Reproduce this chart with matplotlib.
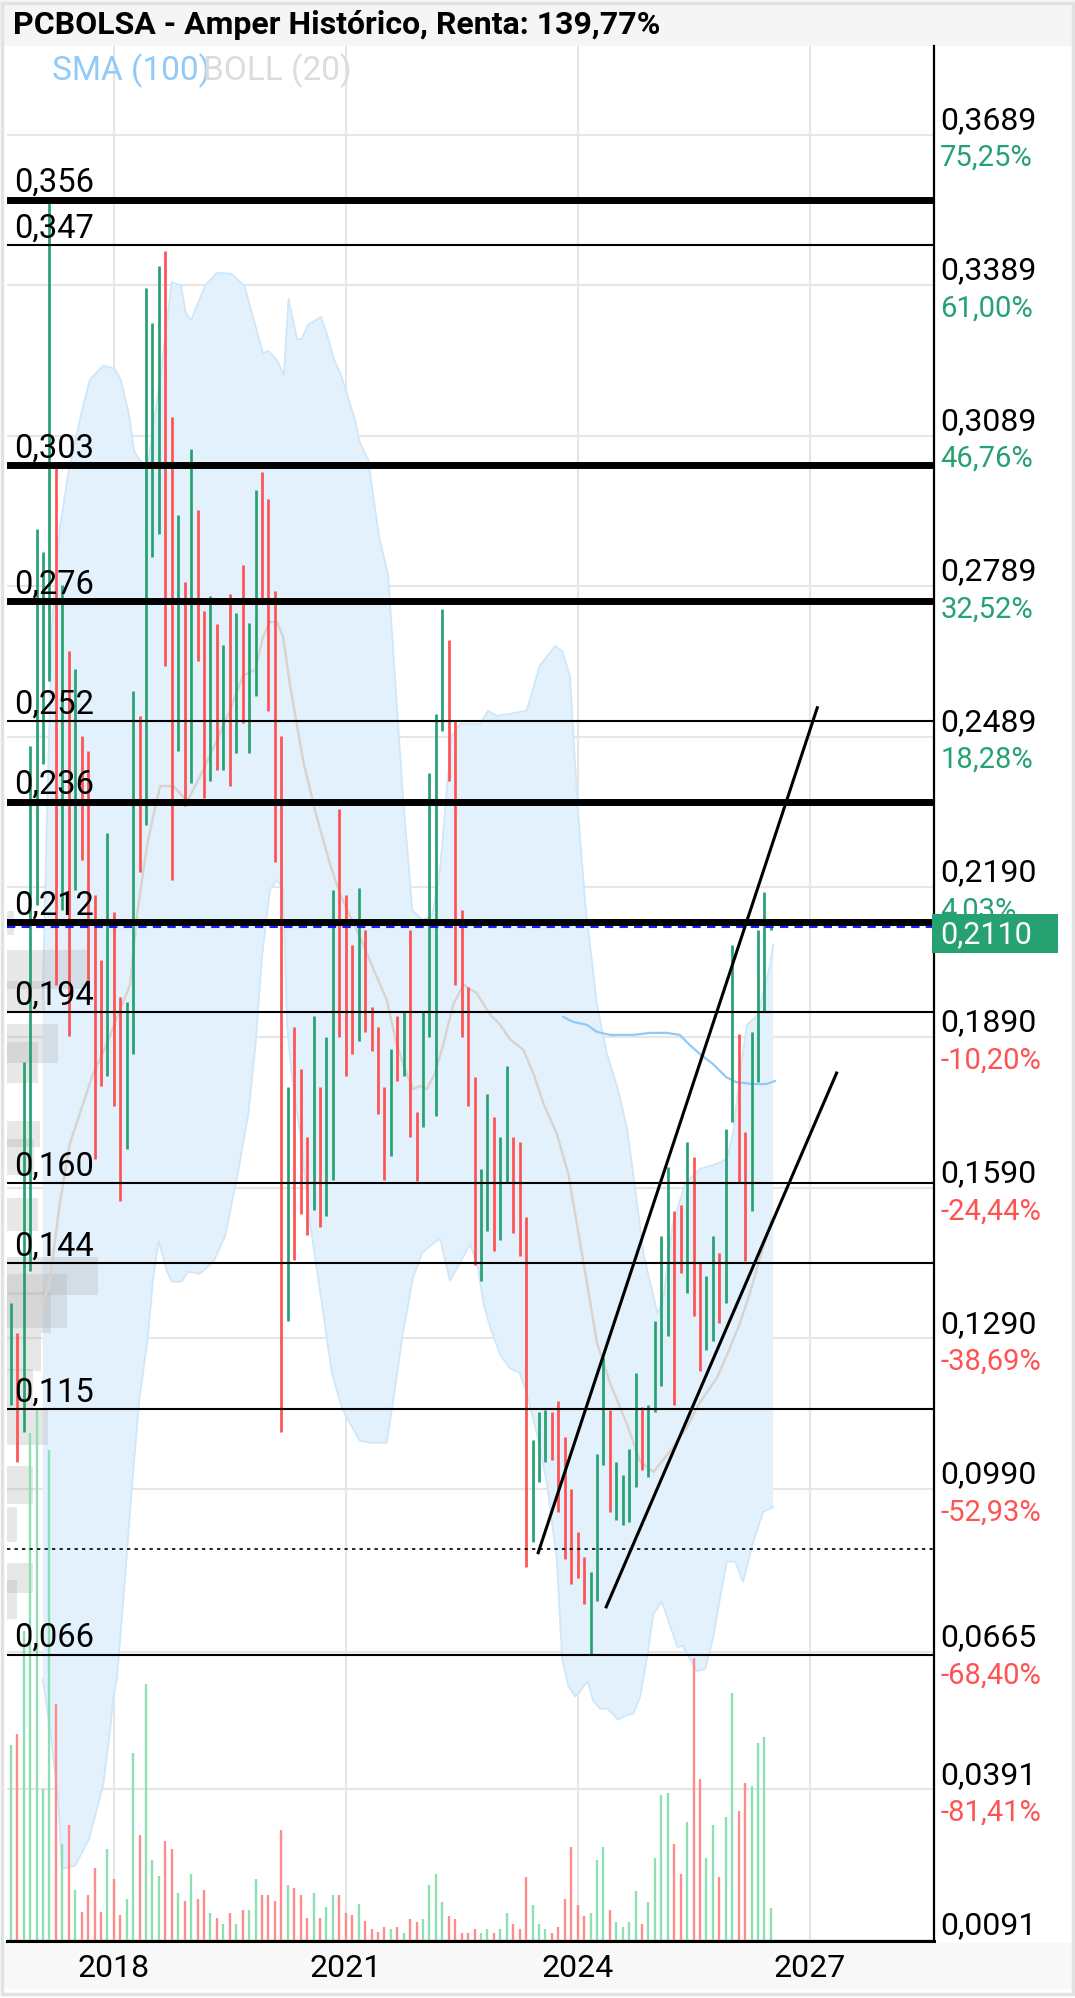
import numpy as np
import matplotlib
matplotlib.use('Agg')
import matplotlib.pyplot as plt
from matplotlib.patches import Rectangle

plt.rcParams['font.family'] = ['Roboto', 'DejaVu Sans']

# monthly bars, first bar = Sep 2016
first_month = 2016 + 8 / 12
highs = [0.1361, 0.1301, 0.1841, 0.2471, 0.2903, 0.2858, 0.3553, 0.3036, 0.2792, 0.2660,
         0.2624, 0.2491, 0.2461, 0.2174, 0.2045, 0.2297, 0.2140, 0.1970, 0.1960, 0.2580,
         0.2531, 0.3383, 0.3314, 0.3427, 0.3457, 0.3126, 0.2931, 0.2798, 0.3062, 0.2941,
         0.2739, 0.2769, 0.2713, 0.2673, 0.2773, 0.2735, 0.2832, 0.2715, 0.2981, 0.3016,
         0.2963, 0.2779, 0.2491, 0.1791, 0.1910, 0.1827, 0.1692, 0.1932, 0.1791, 0.1890,
         0.2184, 0.2346, 0.2174, 0.2075, 0.2188, 0.2104, 0.1950, 0.1910, 0.1791, 0.1866,
         0.1932, 0.1942, 0.2104, 0.1741, 0.1942, 0.2416, 0.2535, 0.2743, 0.2683, 0.2521,
         0.2144, 0.1991, 0.1811, 0.1628, 0.1777, 0.1732, 0.1692, 0.1833, 0.1692, 0.1682,
         0.1533, 0.1087, 0.1143, 0.1147, 0.1143, 0.1166, 0.1093, 0.0990, 0.0905, 0.0855,
         0.0825, 0.1059, 0.1252, 0.1147, 0.1043, 0.1018, 0.1069, 0.1222, 0.1153, 0.1158,
         0.1325, 0.1494, 0.1632, 0.1543, 0.1555, 0.1682, 0.1652, 0.1440, 0.1414, 0.1494,
         0.1460, 0.1708, 0.2075, 0.1896, 0.1702, 0.1900, 0.2104, 0.2180, 0.2115]
lows = [0.1158, 0.1043, 0.1103, 0.1424, 0.2154, 0.2435, 0.2600, 0.1995, 0.2144, 0.1892,
        0.2184, 0.2243, 0.1975, 0.1648, 0.1793, 0.1813, 0.1753, 0.1563, 0.1668, 0.1856,
        0.2219, 0.2313, 0.2848, 0.2894, 0.2630, 0.2203, 0.2461, 0.2352, 0.2398, 0.2640,
        0.2368, 0.2402, 0.2422, 0.2422, 0.2392, 0.2457, 0.2517, 0.2457, 0.2570, 0.2759,
        0.2541, 0.2239, 0.1103, 0.1325, 0.1446, 0.1539, 0.1496, 0.1545, 0.1513, 0.1535,
        0.1605, 0.1890, 0.1813, 0.1856, 0.1882, 0.1900, 0.1862, 0.1737, 0.1605, 0.1654,
        0.1803, 0.1813, 0.1692, 0.1603, 0.1712, 0.1890, 0.1733, 0.2501, 0.2402, 0.1995,
        0.1890, 0.1753, 0.1436, 0.1404, 0.1505, 0.1464, 0.1486, 0.1599, 0.1500, 0.1454,
        0.0835, 0.0885, 0.1004, 0.1043, 0.1047, 0.0944, 0.0851, 0.0800, 0.0812, 0.0760,
        0.0661, 0.0766, 0.1037, 0.0944, 0.0928, 0.0918, 0.0924, 0.0994, 0.1028, 0.1014,
        0.1143, 0.1196, 0.1295, 0.1158, 0.1420, 0.1381, 0.1335, 0.1226, 0.1267, 0.1285,
        0.1321, 0.1361, 0.1722, 0.1599, 0.1444, 0.1543, 0.1801, 0.1940, 0.2105]
up = [1, 0, 1, 1, 1, 1, 1, 0, 1, 0, 1, 0, 0, 0, 0, 1, 0, 0, 1, 1,
      0, 1, 1, 1, 0, 0, 1, 0, 1, 0, 0, 1, 0, 1, 0, 1, 0, 1, 1, 0,
      0, 0, 0, 1, 0, 0, 0, 1, 0, 1, 1, 0, 0, 0, 1, 0, 0, 0, 0, 1,
      0, 1, 0, 0, 1, 1, 1, 1, 0, 0, 0, 0, 0, 1, 1, 0, 1, 1, 0, 0,
      0, 1, 1, 1, 0, 0, 0, 0, 0, 0, 1, 1, 1, 0, 1, 1, 1, 1, 0, 1,
      1, 1, 1, 0, 0, 1, 0, 0, 1, 1, 0, 1, 1, 0, 0, 1, 1, 1, 1]
vols = [589, 622, 931, 1525, 1600, 457, 1474, 712, 292, 349,
        152, 87, 137, 219, 87, 277, 185, 79, 127, 565,
        317, 771, 244, 194, 301, 277, 144, 119, 202, 127,
        152, 85, 69, 52, 85, 52, 94, 94, 185, 137,
        137, 119, 334, 169, 160, 137, 69, 144, 69, 102,
        137, 137, 85, 77, 110, 60, 35, 26, 43, 35,
        42, 25, 67, 58, 67, 167, 200, 117, 75, 67,
        25, 25, 35, 25, 35, 25, 35, 83, 50, 35,
        192, 108, 50, 35, 25, 42, 125, 282, 108, 75,
        83, 242, 282, 92, 58, 42, 58, 150, 50, 117,
        248, 438, 445, 290, 200, 357, 850, 487, 248, 347,
        192, 373, 743, 390, 473, 465, 595, 612, 100]
vol_full = 5685   # volume that would fill the whole panel height

# BOLL (20) bands and SMA (100)
boll_up_x = [2017.08, 2017.14, 2017.20, 2017.30, 2017.42, 2017.60, 2017.69, 2017.86, 2018.01, 2018.09,
             2018.20, 2018.26, 2018.35, 2018.44, 2018.60, 2018.75, 2018.87, 2018.93, 2019.00, 2019.18,
             2019.33, 2019.52, 2019.69, 2019.85, 2019.93, 2020.00, 2020.11, 2020.20, 2020.26, 2020.37,
             2020.43, 2020.51, 2020.68, 2020.76, 2020.85, 2020.94, 2021.12, 2021.18, 2021.29, 2021.43,
             2021.55, 2021.64, 2021.74, 2021.86, 2021.99, 2022.12, 2022.22, 2022.31, 2022.37, 2022.48,
             2022.74, 2022.84, 2022.96, 2023.12, 2023.34, 2023.51, 2023.71, 2023.80, 2023.90, 2024.00,
             2024.10, 2024.25, 2024.38, 2024.52, 2024.64, 2024.77, 2024.85, 2025.03, 2025.10, 2025.23,
             2025.39, 2025.58, 2025.80, 2025.93, 2026.01, 2026.10, 2026.19, 2026.33, 2026.49, 2026.53]
boll_up = [0.1967, 0.2365, 0.2712, 0.2904, 0.3023, 0.3147, 0.3201, 0.3229, 0.3223, 0.3201,
           0.3129, 0.3059, 0.3037, 0.3031, 0.3203, 0.3396, 0.3388, 0.3334, 0.3320, 0.3388,
           0.3414, 0.3412, 0.3388, 0.3298, 0.3254, 0.3258, 0.3240, 0.3210, 0.3362, 0.3282,
           0.3282, 0.3310, 0.3326, 0.3290, 0.3240, 0.3210, 0.3121, 0.3077, 0.3041, 0.2890,
           0.2810, 0.2601, 0.2371, 0.2144, 0.2124, 0.2134, 0.2224, 0.2391, 0.2491, 0.2515,
           0.2515, 0.2541, 0.2531, 0.2535, 0.2541, 0.2631, 0.2670, 0.2660, 0.2611, 0.2351,
           0.2154, 0.1955, 0.1857, 0.1787, 0.1708, 0.1558, 0.1460, 0.1341, 0.1361, 0.1518,
           0.1598, 0.1628, 0.1638, 0.1648, 0.1698, 0.1817, 0.1915, 0.1935, 0.2035, 0.2074]
boll_lo_x = [2017.08, 2017.19, 2017.28, 2017.33, 2017.50, 2017.68, 2017.86, 2017.95, 2017.99, 2018.04,
             2018.13, 2018.24, 2018.33, 2018.44, 2018.51, 2018.58, 2018.69, 2018.75, 2018.88, 2018.96,
             2019.11, 2019.29, 2019.44, 2019.60, 2019.74, 2019.83, 2019.92, 2019.98, 2020.02, 2020.11,
             2020.19, 2020.24, 2020.30, 2020.41, 2020.54, 2020.69, 2020.82, 2020.95, 2021.05, 2021.18,
             2021.31, 2021.53, 2021.61, 2021.74, 2021.87, 2021.99, 2022.15, 2022.22, 2022.35, 2022.48,
             2022.61, 2022.71, 2022.78, 2022.87, 2023.00, 2023.12, 2023.25, 2023.34, 2023.47, 2023.60,
             2023.73, 2023.80, 2023.88, 2023.97, 2024.03, 2024.13, 2024.20, 2024.29, 2024.39, 2024.52,
             2024.65, 2024.72, 2024.81, 2024.90, 2024.98, 2025.09, 2025.29, 2025.36, 2025.54, 2025.65,
             2025.75, 2025.84, 2025.93, 2026.04, 2026.14, 2026.27, 2026.40, 2026.53]
boll_lo = [0.0611, 0.0492, 0.0372, 0.0233, 0.0239, 0.0293, 0.0398, 0.0506, 0.0572, 0.0611,
           0.0783, 0.1006, 0.1170, 0.1291, 0.1413, 0.1484, 0.1423, 0.1403, 0.1403, 0.1423,
           0.1419, 0.1443, 0.1494, 0.1616, 0.1738, 0.1871, 0.2055, 0.2134, 0.2184, 0.2204,
           0.2184, 0.1915, 0.1817, 0.1698, 0.1518, 0.1361, 0.1221, 0.1152, 0.1122, 0.1086,
           0.1082, 0.1082, 0.1162, 0.1301, 0.1411, 0.1461, 0.1482, 0.1488, 0.1405, 0.1441,
           0.1478, 0.1431, 0.1361, 0.1311, 0.1257, 0.1231, 0.1221, 0.1181, 0.1102, 0.1004,
           0.0851, 0.0651, 0.0597, 0.0576, 0.0586, 0.0607, 0.0568, 0.0552, 0.0552, 0.0530,
           0.0540, 0.0542, 0.0576, 0.0657, 0.0741, 0.0765, 0.0675, 0.0677, 0.0627, 0.0631,
           0.0691, 0.0771, 0.0845, 0.0845, 0.0805, 0.0884, 0.0944, 0.0954]
boll_mid_x = [2017.08, 2017.17, 2017.30, 2017.43, 2017.60, 2017.73, 2017.91, 2018.08, 2018.21, 2018.30,
              2018.43, 2018.51, 2018.60, 2018.70, 2018.77, 2018.95, 2019.05, 2019.15, 2019.33, 2019.50,
              2019.67, 2019.83, 2019.93, 2020.02, 2020.11, 2020.19, 2020.28, 2020.45, 2020.62, 2020.80,
              2020.93, 2021.05, 2021.23, 2021.36, 2021.53, 2021.66, 2021.79, 2021.87, 2021.96, 2022.05,
              2022.15, 2022.26, 2022.39, 2022.52, 2022.69, 2022.87, 2023.00, 2023.12, 2023.30, 2023.43,
              2023.56, 2023.73, 2023.88, 2023.99, 2024.12, 2024.25, 2024.42, 2024.63, 2024.81, 2024.98,
              2025.19, 2025.41, 2025.58, 2025.80, 2025.97, 2026.10, 2026.23, 2026.34, 2026.42, 2026.51]
boll_mid = [0.1361, 0.1401, 0.1558, 0.1678, 0.1757, 0.1817, 0.1877, 0.1945, 0.1995, 0.2134,
            0.2272, 0.2332, 0.2391, 0.2391, 0.2391, 0.2361, 0.2391, 0.2421, 0.2481, 0.2541,
            0.2611, 0.2623, 0.2688, 0.2718, 0.2718, 0.2688, 0.2591, 0.2441, 0.2332, 0.2234,
            0.2174, 0.2134, 0.2074, 0.2025, 0.1965, 0.1875, 0.1817, 0.1787, 0.1793, 0.1787,
            0.1817, 0.1875, 0.1955, 0.1995, 0.1979, 0.1935, 0.1915, 0.1887, 0.1865, 0.1817,
            0.1757, 0.1698, 0.1618, 0.1518, 0.1401, 0.1281, 0.1201, 0.1122, 0.1044, 0.1024,
            0.1064, 0.1112, 0.1162, 0.1211, 0.1271, 0.1321, 0.1381, 0.1441, 0.1481, 0.1528]
sma_x = [2023.81, 2023.94, 2024.12, 2024.25, 2024.42, 2024.72, 2024.94, 2025.15, 2025.32,
         2025.45, 2025.58, 2025.75, 2025.92, 2026.05, 2026.27, 2026.44, 2026.55]
sma = [0.1931, 0.1921, 0.1915, 0.1901, 0.1895, 0.1895, 0.1899, 0.1899, 0.1895,
       0.1875, 0.1857, 0.1837, 0.1811, 0.1801, 0.1797, 0.1797, 0.1803]

# volume by price (grey blocks at the left)
vp_lo = [0.2095, 0.1987, 0.1940, 0.1839, 0.1799, 0.1671, 0.1615, 0.1504, 0.1376, 0.1311,
         0.1301, 0.1225, 0.1147, 0.1077, 0.0996, 0.0960, 0.0884, 0.0782, 0.0772, 0.0731]
vp_hi = [0.2141, 0.2064, 0.2002, 0.1917, 0.1881, 0.1723, 0.1687, 0.1570, 0.1452, 0.1419,
         0.1383, 0.1301, 0.1229, 0.1149, 0.1036, 0.0996, 0.0954, 0.0842, 0.0808, 0.0772]
vp_vol = [7, 83, 38, 51, 31, 33, 27, 31, 91, 60, 44, 34, 26, 41, 26, 26, 10, 26, 10, 10]
vp_full = 927

# drawn levels
level_vals = [0.356, 0.347, 0.303, 0.276, 0.252, 0.236, 0.212, 0.194, 0.160, 0.144, 0.115, 0.066]
level_thick = [1, 0, 1, 1, 0, 1, 1, 0, 0, 0, 0, 0]
dotted_level = 0.0871
last_price = 0.2110
# trend channel
trend1_x = [2023.49, 2027.10]
trend1_y = [0.0863, 0.2547]
trend2_x = [2024.37, 2027.35]
trend2_y = [0.0755, 0.1819]

# right axis
grid_prices = [0.3689, 0.3389, 0.3089, 0.2789, 0.2489, 0.2190, 0.1890, 0.1590, 0.1290,
               0.0990, 0.0665, 0.0391, 0.0091]
pct_labels = ['75,25%', '61,00%', '46,76%', '32,52%', '18,28%', '4,03%', '-10,20%',
              '-24,44%', '-38,69%', '-52,93%', '-68,40%', '-81,41%', '']
year_ticks = [2018, 2021, 2024, 2027]

GREEN = '#26a172'
RED = '#ff5252'

fig = plt.figure(figsize=(10.75, 19.99), dpi=100)
W, H = 1075, 1999
ax = fig.add_axes([7 / W, 1 - 1942 / H, 927 / W, 1895 / H])

# frame pieces (behind the axes)
fig.patches.append(Rectangle((0, 1 - 47 / H), 1, 47 / H, transform=fig.transFigure,
                             fc='#f5f5f5', ec='none', zorder=-2))
fig.patches.append(Rectangle((0, 1 - 1990 / H), 1, 46 / H, transform=fig.transFigure,
                             fc='#f8f8f8', ec='none', zorder=-2))
fig.patches.append(Rectangle((0.002, 0.002), 0.996, 0.996, transform=fig.transFigure,
                             fill=False, ec='#e2e2e2', lw=2.5, zorder=-1))

months = first_month + np.arange(len(highs)) / 12
colors = [GREEN if u else RED for u in up]
vcolors = ['#8ee0b2' if u else '#ff8c8c' for u in up]

# bollinger band
poly_x = np.concatenate([boll_up_x, boll_lo_x[::-1]])
poly_y = np.concatenate([boll_up, boll_lo[::-1]])
ax.fill(poly_x, poly_y, color='#e2f1fc', lw=0, zorder=1)
ax.plot(boll_up_x, boll_up, color='#cfe7f9', lw=1.3, zorder=1.2)
ax.plot(boll_lo_x, boll_lo, color='#cfe7f9', lw=1.3, zorder=1.2)
ax.plot(boll_mid_x, boll_mid, color='#d9d3cd', lw=1.7, zorder=2)
ax.plot(sma_x, sma, color='#90caf9', lw=1.6, zorder=2)

# volume profile
for lo, hi, v in zip(vp_lo, vp_hi, vp_vol):
    ax.add_patch(Rectangle((0, lo), v / vp_full, hi - lo, transform=ax.get_yaxis_transform(),
                           fc='#b0b0b0', alpha=0.3, ec='none', zorder=1.5))

# volume
ax.vlines(months, 0, np.array(vols) / vol_full, colors=vcolors, lw=1.7,
          transform=ax.get_xaxis_transform(), zorder=2.2)

# candles
ax.vlines(months, lows, highs, colors=colors, lw=1.95, zorder=3)

# levels
ax.axhline(last_price, color='#1a1aff', lw=1.5, ls=(0, (4, 3)), zorder=3.8)
for v, t in zip(level_vals, level_thick):
    ax.axhline(v, color='black', lw=5 if t else 1.5, zorder=4)
    ax.text(0.008, v + 0.0003, f'{v:.3f}'.replace('.', ','), transform=ax.get_yaxis_transform(),
            fontsize=23.5, va='bottom', ha='left', color='black', zorder=6)
ax.axhline(dotted_level, color='black', lw=1.2, ls=(0, (2, 2.5)), zorder=4)

ax.plot(trend1_x, trend1_y, color='black', lw=2.2, zorder=5)
ax.plot(trend2_x, trend2_y, color='black', lw=2.2, zorder=5)

ax.set_xlim(2016.618, 2028.61)
ax.set_ylim(0.0089, 0.3866)

ax.set_yticks(grid_prices)
ax.set_xticks(year_ticks)
ax.set_xticklabels([str(y) for y in year_ticks], fontsize=23)
ax.tick_params(axis='y', left=False, right=False, labelleft=False)
ax.tick_params(axis='x', length=0, pad=9)
ax.grid(True, color='#e6e6e6', lw=1.5, zorder=0)
ax.set_axisbelow(True)
for s in ['left', 'top']:
    ax.spines[s].set_visible(False)
ax.spines['right'].set_linewidth(1.6)
ax.spines['bottom'].set_linewidth(2.2)

# right-hand labels
for p, pct in zip(grid_prices, pct_labels):
    ax.annotate(f'{p:.4f}'.replace('.', ','), xy=(1, p), xycoords=ax.get_yaxis_transform(),
                xytext=(4.5, 11), textcoords='offset points', fontsize=23,
                va='center', ha='left', annotation_clip=False)
    if pct:
        ax.annotate(pct, xy=(1, p), xycoords=ax.get_yaxis_transform(),
                    xytext=(4.5, -16), textcoords='offset points', fontsize=21,
                    va='center', ha='left', color=GREEN if not pct.startswith('-') else RED,
                    annotation_clip=False)

# current price tag
ax.add_patch(Rectangle((0.998, last_price - 0.0052), 0.136, 0.0078,
                       transform=ax.get_yaxis_transform(), fc=GREEN, ec='none',
                       clip_on=False, zorder=7))
ax.annotate(f'{last_price:.4f}'.replace('.', ','), xy=(1, last_price - 0.0013),
            xycoords=ax.get_yaxis_transform(), xytext=(4.5, 0), textcoords='offset points',
            fontsize=22, color='white', va='center', ha='left', zorder=8,
            annotation_clip=False)

fig.text(13 / W, 1 - 25 / H, 'PCBOLSA - Amper Histórico, Renta: 139,77%',
         fontsize=23, fontweight='bold', va='center', ha='left')
fig.text(52 / W, 1 - 71 / H, 'SMA (100)', fontsize=24, color='#90caf9', va='center', ha='left')
fig.text(203 / W, 1 - 71 / H, 'BOLL (20)', fontsize=24, color='#dcdcdc', va='center', ha='left')

fig.savefig('out.png', dpi=100)
